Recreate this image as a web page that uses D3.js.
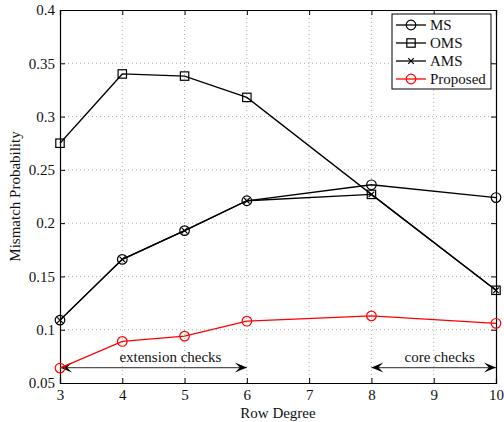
<!DOCTYPE html>
<html><head><meta charset="utf-8">
<script src="https://cdn.jsdelivr.net/npm/d3@7"></script>
<style>body{margin:0;background:#fff}svg{display:block}svg text{font-family:"Liberation Serif","Times New Roman",serif !important}</style>
</head><body>
<script>
const xCats = [3, 4, 5, 6, 8, 10];
const msVals = [0.109, 0.166, 0.193, 0.221, 0.236, 0.224];
const omsVals = [0.275, 0.340, 0.338, 0.318, 0.227, 0.137];
const amsVals = [0.109, 0.166, 0.193, 0.221, 0.227, 0.137];
const propVals = [0.064, 0.089, 0.094, 0.108, 0.113, 0.106];
const xTicks = [3, 4, 5, 6, 7, 8, 9, 10];
const yTicks = [0.05, 0.1, 0.15, 0.2, 0.25, 0.3, 0.35, 0.4];
const seriesNames = ["MS", "OMS", "AMS", "Proposed"];
const annotations = [{label: "extension checks", from: 3, to: 6}, {label: "core checks", from: 8, to: 10}];
const annotY = 0.0645;

const W = 504, H = 422;
const m = {l: 60, r: 8, t: 10, b: 39};
const FONT = "Liberation Serif, Times New Roman, serif";
const svg = d3.select("body").append("svg").attr("width", W).attr("height", H)
  .attr("font-family", FONT);
const x = d3.scaleLinear().domain([3, 10]).range([m.l, W - m.r]);
const y = d3.scaleLinear().domain([0.05, 0.4]).range([H - m.b, m.t]);
const pw = W - m.r - m.l, ph = H - m.b - m.t;

// grid
const g = svg.append("g");
g.selectAll(".vg").data(xTicks.slice(1, -1)).enter().append("line")
  .attr("x1", d => x(d)).attr("x2", d => x(d)).attr("y1", m.t).attr("y2", H - m.b)
  .attr("stroke", "#999").attr("stroke-width", 0.8).attr("stroke-dasharray", "1,3");
g.selectAll(".hg").data(yTicks.slice(1, -1)).enter().append("line")
  .attr("y1", d => y(d)).attr("y2", d => y(d)).attr("x1", m.l).attr("x2", W - m.r)
  .attr("stroke", "#999").attr("stroke-width", 0.8).attr("stroke-dasharray", "1,3");

// axes
const xa = svg.append("g").attr("transform", `translate(0,${H - m.b})`)
  .call(d3.axisBottom(x).tickValues(xTicks).tickSize(-5).tickPadding(6).tickFormat(d3.format("d")));
const xa2 = svg.append("g").attr("transform", `translate(0,${m.t})`)
  .call(d3.axisTop(x).tickValues(xTicks).tickSize(-5).tickFormat(""));
const ya = svg.append("g").attr("transform", `translate(${m.l},0)`)
  .call(d3.axisLeft(y).tickValues(yTicks).tickSize(-5).tickPadding(5).tickFormat(d => String(+d.toFixed(2))));
const ya2 = svg.append("g").attr("transform", `translate(${W - m.r},0)`)
  .call(d3.axisRight(y).tickValues(yTicks).tickSize(-5).tickFormat(""));
[xa, xa2, ya, ya2].forEach(a => {
  a.attr("font-family", FONT).attr("font-size", 15);
  a.selectAll("path").attr("stroke", "#000").attr("stroke-width", 1.2);
  a.selectAll("line").attr("stroke", "#000");
  a.selectAll("text").attr("fill", "#111");
});

svg.append("text").attr("x", m.l + pw / 2).attr("y", H - 4).attr("text-anchor", "middle")
  .attr("font-size", 15).attr("fill", "#111").text("Row Degree");
svg.append("text").attr("transform", `translate(20,${m.t + ph / 2}) rotate(-90)`).attr("text-anchor", "middle")
  .attr("font-size", 15).attr("fill", "#111").text("Mismatch Probability");

// annotations (arrows)
function arrowHead(px, py, dir) {
  const L = 12, Wd = 5, back = 5;
  return `M${px},${py} L${px - dir * L},${py - Wd} L${px - dir * (L - back)},${py} L${px - dir * L},${py + Wd} Z`;
}
const ann = svg.append("g");
annotations.forEach(a => {
  const x1 = x(a.from), x2 = x(a.to), yy = y(annotY);
  ann.append("line").attr("x1", x1).attr("x2", x2).attr("y1", yy).attr("y2", yy)
    .attr("stroke", "#555").attr("stroke-width", 1.3);
  ann.append("path").attr("d", arrowHead(x1, yy, -1)).attr("fill", "#000");
  ann.append("path").attr("d", arrowHead(x2, yy, 1)).attr("fill", "#000");
  ann.append("text").attr("x", (x1 + x2) / 2 + (a.from === 3 ? 17 : 6)).attr("y", yy - 6)
    .attr("text-anchor", "middle").attr("font-size", 15).attr("fill", "#111").text(a.label);
});

// series
const line = d3.line().x((d, i) => x(xCats[i])).y(d => y(d));
const series = [
  {name: "OMS", vals: omsVals, color: "#000", marker: "square"},
  {name: "MS", vals: msVals, color: "#000", marker: "circle"},
  {name: "AMS", vals: amsVals, color: "#000", marker: "x"},
  {name: "Proposed", vals: propVals, color: "#f00", marker: "circle"}
];
function drawMarker(sel, type, cx, cy, color) {
  if (type === "circle") {
    sel.append("circle").attr("cx", cx).attr("cy", cy).attr("r", 4.8)
      .attr("fill", "none").attr("stroke", color).attr("stroke-width", 1.2);
  } else if (type === "square") {
    sel.append("rect").attr("x", cx - 4.2).attr("y", cy - 4.2).attr("width", 8.4).attr("height", 8.4)
      .attr("fill", "none").attr("stroke", color).attr("stroke-width", 1.2);
  } else {
    const s = 2.8;
    sel.append("path").attr("d", `M${cx - s},${cy - s}L${cx + s},${cy + s}M${cx - s},${cy + s}L${cx + s},${cy - s}`)
      .attr("stroke", color).attr("stroke-width", 1.2);
  }
}
series.forEach(s => {
  const sg = svg.append("g");
  sg.append("path").datum(s.vals).attr("d", line).attr("fill", "none")
    .attr("stroke", s.color).attr("stroke-width", 1.3);
  s.vals.forEach((v, i) => drawMarker(sg, s.marker, x(xCats[i]), y(v), s.color));
});

// legend
const lg = svg.append("g").attr("transform", "translate(392,14)");
lg.append("rect").attr("width", 99).attr("height", 75).attr("fill", "#fff").attr("stroke", "#000").attr("stroke-width", 1);
const legendMarkers = {MS: ["circle", "#000"], OMS: ["square", "#000"], AMS: ["x", "#000"], Proposed: ["circle", "#f00"]};
seriesNames.forEach((n, i) => {
  const yy = 11 + i * 18;
  const [mk, c] = legendMarkers[n];
  lg.append("line").attr("x1", 4).attr("x2", 34).attr("y1", yy).attr("y2", yy).attr("stroke", c).attr("stroke-width", 1.3);
  drawMarker(lg, mk, 19, yy, c);
  lg.append("text").attr("x", 38).attr("y", yy + 5).attr("font-size", 15).attr("fill", "#111").text(n);
});
</script>
</body></html>
